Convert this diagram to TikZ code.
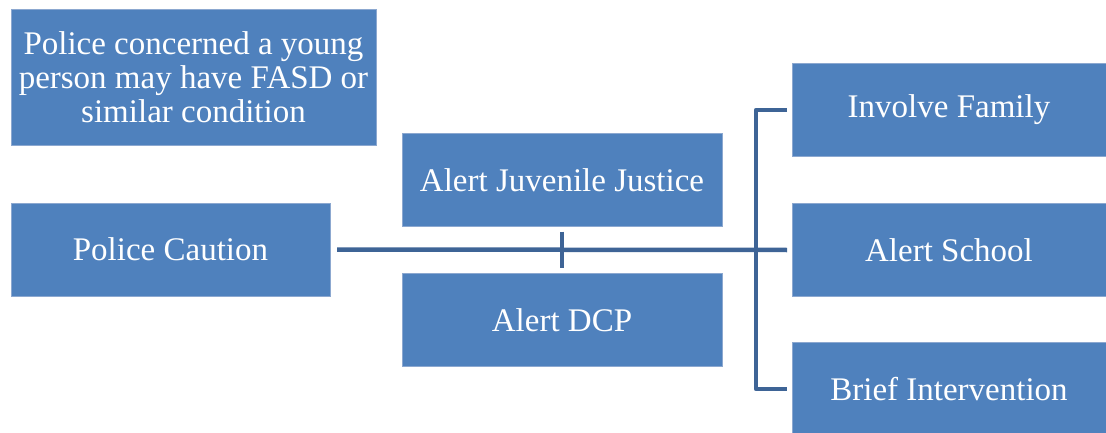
\documentclass[tikz,border=0pt]{standalone}
\usepackage{fontspec}
\setmainfont{Liberation Serif}
\usepackage{tikz}
\usetikzlibrary{calc}
\definecolor{boxblue}{RGB}{79,129,189}
\definecolor{boxedge}{RGB}{140,168,208}
\definecolor{linkblue}{RGB}{62,100,150}
\tikzset{
    box/.style={fill=boxblue, draw=boxedge, line width=0.8pt, inner sep=0pt, outer sep=0pt,
        text=white, align=center, font=\fontsize{33}{34}\selectfont},
    link/.style={draw=linkblue, line width=4.5pt}
}

\begin{document}
\begin{tikzpicture}[x=1pt,y=-1pt]
\useasboundingbox (0,0) rectangle (1106,433);
\node[box, minimum width=365pt, minimum height=136pt] (concern) at (193.5,77) {Police concerned a young\\person may have FASD or\\similar condition};
\foreach \x/\y/\w/\n/\t in {170.5/249.5/319/caution/{Police Caution}, 562/180/320/juvenile/{Alert Juvenile Justice}, 562/320/320/dcp/{Alert DCP}, 949/110/314/family/{Involve Family}, 949/250/314/school/{Alert School}, 949/389/314/brief/{Brief Intervention}}{
    \node[box, minimum width=\w pt, minimum height=93pt] (\n) at (\x,\y) {\t};
}
\coordinate (fork) at (756,249);
\draw[link] ([xshift=7pt]caution.east) -- ([xshift=-5pt]school.west);
\draw[link, shorten <=5pt, shorten >=6pt] (juvenile.south) -- (dcp.north);
\draw[link, line join=round] ([xshift=-5pt]family.west) -| (fork) |- ([xshift=-5pt]brief.west);
\end{tikzpicture}
\end{document}
